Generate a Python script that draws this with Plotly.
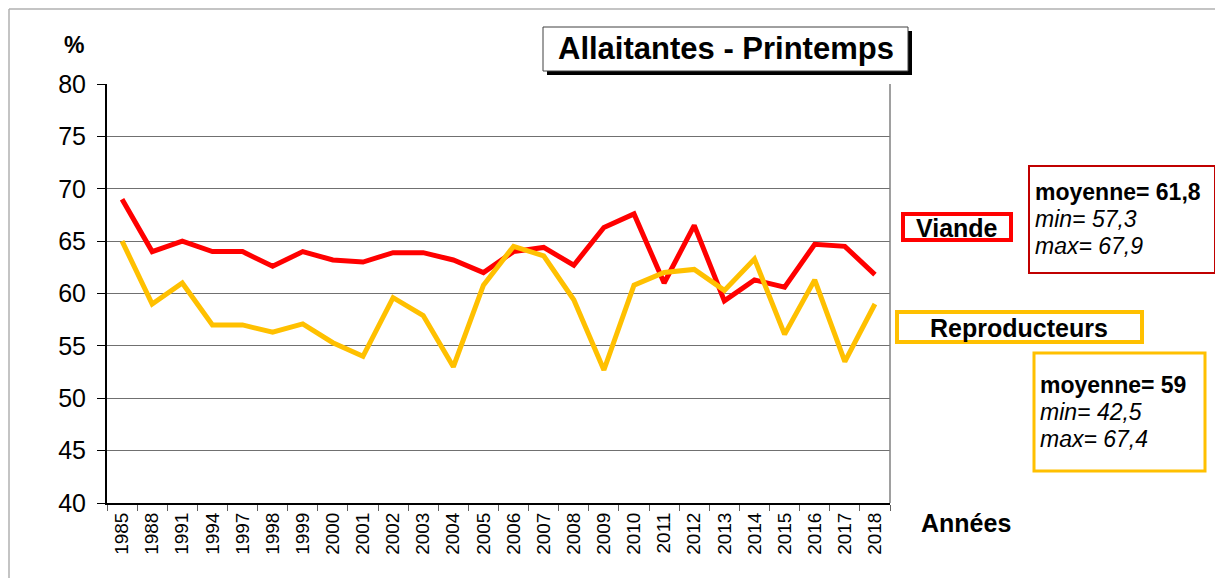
import plotly.graph_objects as go

# Données
annees = ["1985", "1988", "1991", "1994", "1997", "1998", "1999", "2000", "2001",
          "2002", "2003", "2004", "2005", "2006", "2007", "2008", "2009", "2010",
          "2011", "2012", "2013", "2014", "2015", "2016", "2017", "2018"]
viande = [69.0, 64.0, 65.0, 64.0, 64.0, 62.6, 64.0, 63.2, 63.0, 63.9, 63.9, 63.2,
          62.0, 64.0, 64.4, 62.7, 66.3, 67.6, 61.0, 66.5, 59.3, 61.3, 60.6, 64.7,
          64.5, 61.8]
reproducteurs = [65.0, 59.0, 61.0, 57.0, 57.0, 56.3, 57.1, 55.3, 54.0, 59.6, 57.9,
                 53.0, 60.8, 64.5, 63.6, 59.4, 52.7, 60.8, 62.0, 62.3, 60.3, 63.3,
                 56.1, 61.3, 53.5, 59.0]

stats_viande = ["moyenne= 61,8", "min= 57,3", "max= 67,9"]
stats_repro = ["moyenne= 59", "min= 42,5", "max= 67,4"]

ROUGE = "#FF0000"
ORANGE = "#FFC000"
FONT = "Liberation Sans, Arial, sans-serif"

# la page html a une marge de 8 px : on décale tout
OFF = 8
W, H = 1223 - OFF, 578 - OFF
# zone de tracé en pixels écran
L, R, T, B = 107, 890, 84, 503


def px(x):
    return (x - L) / (R - L)


def py(y):
    return (B - y) / (B - T)


fig = go.Figure()
fig.add_trace(go.Scatter(x=annees, y=viande, mode="lines", name="Viande",
                         line=dict(color=ROUGE, width=5)))
fig.add_trace(go.Scatter(x=annees, y=reproducteurs, mode="lines", name="Reproducteurs",
                         line=dict(color=ORANGE, width=5)))

shapes = []
# cadre extérieur
shapes.append(dict(type="line", xref="paper", yref="paper", x0=px(9), x1=px(1216),
                   y0=py(9), y1=py(9), line=dict(color="#b0b0b0", width=1.5)))
shapes.append(dict(type="line", xref="paper", yref="paper", x0=px(9), x1=px(9),
                   y0=py(9), y1=py(600), line=dict(color="#b0b0b0", width=1.5)))
shapes.append(dict(type="line", xref="paper", yref="paper", x0=px(1216), x1=px(1216),
                   y0=py(9), y1=py(600), line=dict(color="#606060", width=1.5)))
# bord droit de la zone de tracé
shapes.append(dict(type="line", xref="paper", yref="paper", x0=1, x1=1, y0=0, y1=1,
                   line=dict(color="#808080", width=1.5)))
# titre : ombre puis cadre
shapes.append(dict(type="rect", xref="paper", yref="paper", x0=px(547), x1=px(912),
                   y0=py(31), y1=py(75), fillcolor="black", line=dict(width=0)))
shapes.append(dict(type="rect", xref="paper", yref="paper", x0=px(543), x1=px(908),
                   y0=py(27), y1=py(71), fillcolor="white", line=dict(color="#404040", width=1)))
# étiquettes des séries
shapes.append(dict(type="rect", xref="paper", yref="paper", x0=px(903), x1=px(1011),
                   y0=py(214), y1=py(240), fillcolor="white", line=dict(color=ROUGE, width=4)))
shapes.append(dict(type="rect", xref="paper", yref="paper", x0=px(897), x1=px(1142),
                   y0=py(312), y1=py(342), fillcolor="white", line=dict(color=ORANGE, width=4)))
# encadrés statistiques
shapes.append(dict(type="rect", xref="paper", yref="paper", x0=px(1029), x1=px(1215),
                   y0=py(166), y1=py(273), fillcolor="white", line=dict(color="#C00000", width=2)))
shapes.append(dict(type="rect", xref="paper", yref="paper", x0=px(1034), x1=px(1205),
                   y0=py(353), y1=py(471), fillcolor="white", line=dict(color=ORANGE, width=3)))

ann = []


def texte(t, x, y, size, bold=False, italic=False, xanchor="center"):
    if bold:
        t = "<b>" + t + "</b>"
    if italic:
        t = "<i>" + t + "</i>"
    ann.append(dict(text=t, xref="paper", yref="paper", x=px(x), y=py(y), xanchor=xanchor,
                    yanchor="middle", showarrow=False,
                    font=dict(family=FONT, size=size, color="black")))


texte("Allaitantes - Printemps", 726, 49, 31, bold=True)
texte("%", 74, 45, 23, bold=True)
texte("Années", 966, 523, 25, bold=True)
texte("Viande", 957, 228, 25, bold=True)
texte("Reproducteurs", 1019, 328, 25, bold=True)
for i, s in enumerate(stats_viande):
    texte(s, 1033, 192 + i * 27, 23, bold=(i == 0), italic=(i > 0), xanchor="left")
for i, s in enumerate(stats_repro):
    texte(s, 1038, 385 + i * 27, 23, bold=(i == 0), italic=(i > 0), xanchor="left")

fig.update_layout(
    width=W, height=H,
    margin=dict(l=L - OFF, r=W - (R - OFF), t=T - OFF, b=H - (B - OFF)),
    paper_bgcolor="white", plot_bgcolor="white",
    showlegend=False,
    shapes=shapes, annotations=ann,
    font=dict(family=FONT, color="black"),
)
fig.update_xaxes(type="category", range=[-0.5, len(annees) - 0.5],
                 tickson="boundaries", ticks="outside", ticklen=6, tickcolor="#606060",
                 tickangle=-90, tickfont=dict(size=19, family=FONT),
                 showline=True, linecolor="black", linewidth=2, showgrid=False)
fig.update_yaxes(range=[40, 80], dtick=5, ticks="outside", ticklen=8, tickcolor="black",
                 tickfont=dict(size=25, family=FONT), ticklabelstandoff=6,
                 showline=True, linecolor="black", linewidth=2,
                 showgrid=True, gridcolor="#707070", gridwidth=1, zeroline=False)

fig.write_html("out.html")
